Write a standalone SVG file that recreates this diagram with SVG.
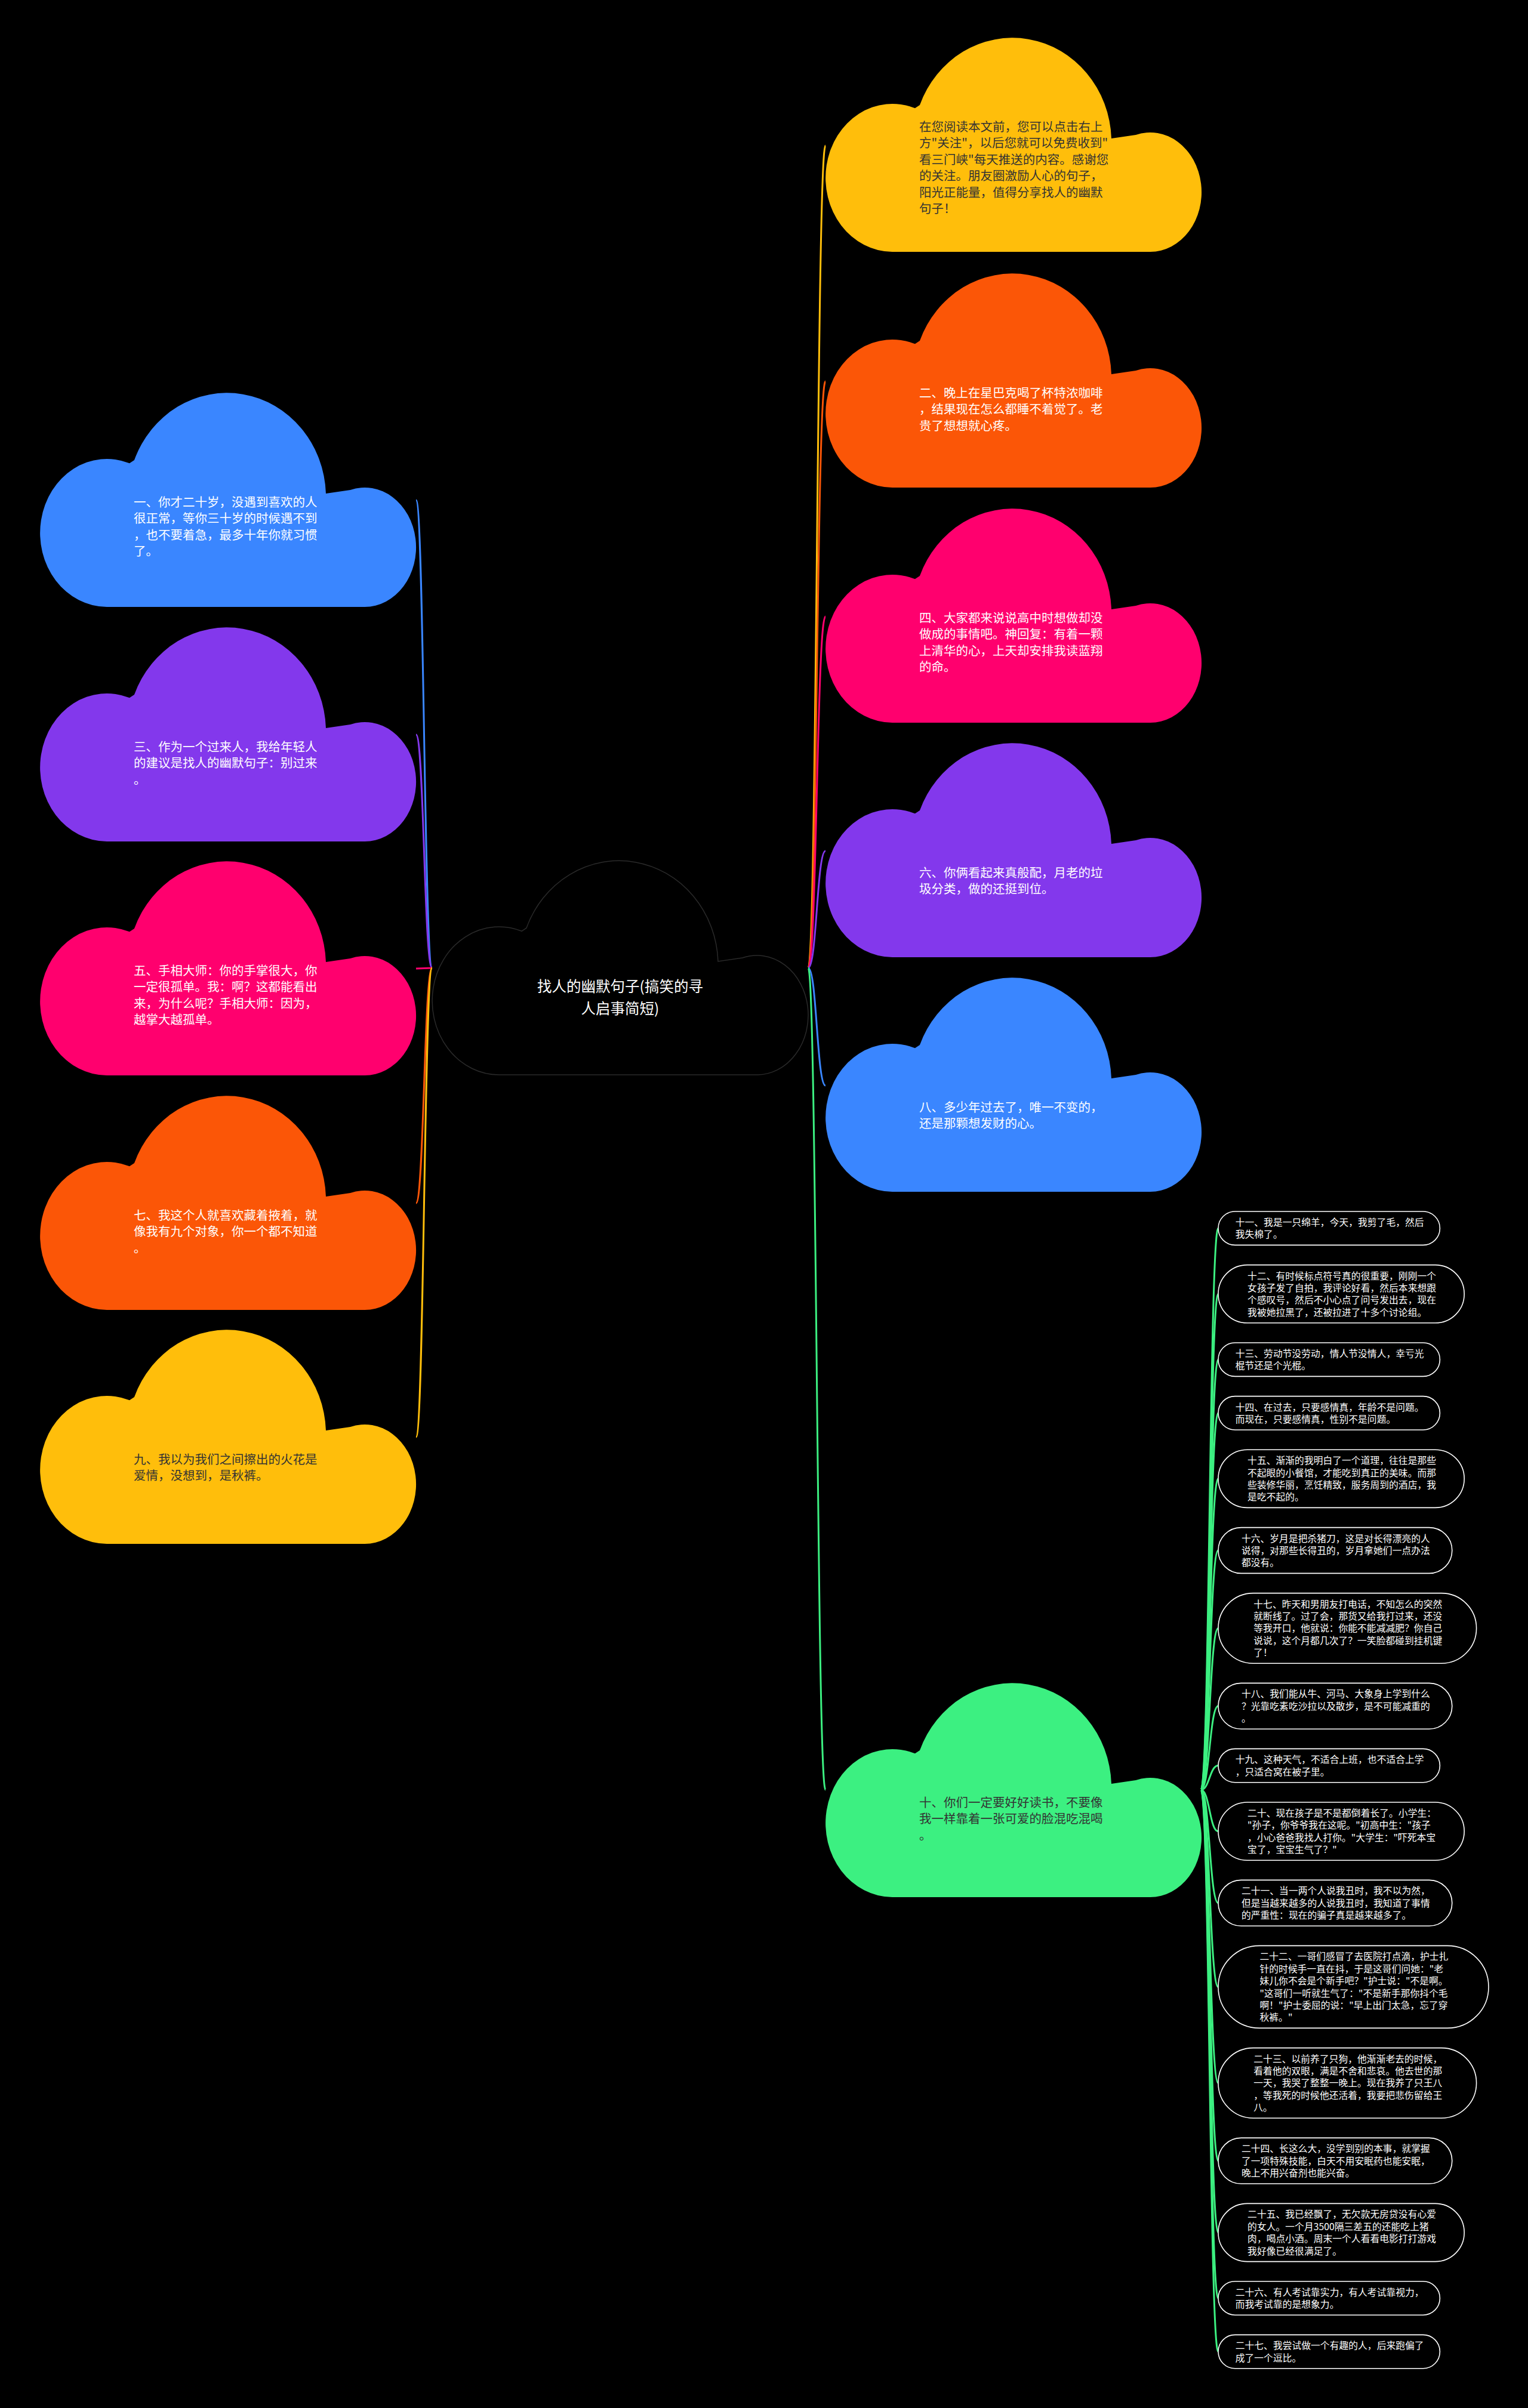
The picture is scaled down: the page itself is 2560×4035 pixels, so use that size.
<svg xmlns="http://www.w3.org/2000/svg" xmlns:xlink="http://www.w3.org/1999/xlink" width="2560" height="4035" viewBox="0 0 2560 4035">
<style>
.t{font-family:"Noto Sans CJK SC","Noto Sans",sans-serif;}
.ct{font-size:20.5px;}
.dk{fill:#333333;}
.lt{fill:#ffffff;}
.root{font-size:24.5px;fill:#ffffff;text-anchor:middle;}
.st{font-size:15.8px;fill:#ffffff;}
.pill{fill:#000000;stroke:#ffffff;stroke-width:1.6;}
.link{fill:none;stroke-width:3;}
</style>
<defs>
<path id="cloud" d="M158 112 A166 175 0 0 1 479 168 L520 162 A86 100 0 1 1 544 358 L112 358 A112 124 0 1 1 150 117.3 Z"/>
</defs>
<rect x="0" y="0" width="2560" height="4035" fill="#000000"/>

<g id="connectors">
<path class="link" stroke="#3A86FF" d="M724 1622 C710.5 1622 710.5 838 697 838"/>
<path class="link" stroke="#8338EC" d="M724 1622 C710.5 1622 710.5 1231 697 1231"/>
<path class="link" stroke="#FF006E" d="M724 1622 L697 1623"/>
<path class="link" stroke="#FB5607" d="M724 1622 C710.5 1622 710.5 2016 697 2016"/>
<path class="link" stroke="#FFBE0B" d="M724 1622 C710.5 1622 710.5 2408 697 2408"/>
<path class="link" stroke="#FFBE0B" d="M1354 1622 C1368.5 1622 1368.5 244 1383 244"/>
<path class="link" stroke="#FB5607" d="M1354 1622 C1368.5 1622 1368.5 639 1383 639"/>
<path class="link" stroke="#FF006E" d="M1354 1622 C1368.5 1622 1368.5 1033 1383 1033"/>
<path class="link" stroke="#8338EC" d="M1354 1622 C1368.5 1622 1368.5 1426 1383 1426"/>
<path class="link" stroke="#3A86FF" d="M1354 1622 C1368.5 1622 1368.5 1819 1383 1819"/>
<path class="link" stroke="#3CF081" d="M1354 1622 C1368.5 1622 1368.5 2999 1383 2999"/>
<g stroke="#3CF081">
<path class="link" d="M2012 2999 C2026.5 2999 2026.5 2058.2 2041 2058.2"/>
<path class="link" d="M2012 2999 C2026.5 2999 2026.5 2168.2 2041 2168.2"/>
<path class="link" d="M2012 2999 C2026.5 2999 2026.5 2278.2 2041 2278.2"/>
<path class="link" d="M2012 2999 C2026.5 2999 2026.5 2367.8 2041 2367.8"/>
<path class="link" d="M2012 2999 C2026.5 2999 2026.5 2477.8 2041 2477.8"/>
<path class="link" d="M2012 2999 C2026.5 2999 2026.5 2598 2041 2598"/>
<path class="link" d="M2012 2999 C2026.5 2999 2026.5 2728.4 2041 2728.4"/>
<path class="link" d="M2012 2999 C2026.5 2999 2026.5 2858.8 2041 2858.8"/>
<path class="link" d="M2012 2999 C2026.5 2999 2026.5 2958.6 2041 2958.6"/>
<path class="link" d="M2012 2999 C2026.5 2999 2026.5 3068.6 2041 3068.6"/>
<path class="link" d="M2012 2999 C2026.5 2999 2026.5 3188.8 2041 3188.8"/>
<path class="link" d="M2012 2999 C2026.5 2999 2026.5 3329.4 2041 3329.4"/>
<path class="link" d="M2012 2999 C2026.5 2999 2026.5 3490.4 2041 3490.4"/>
<path class="link" d="M2012 2999 C2026.5 2999 2026.5 3620.8 2041 3620.8"/>
<path class="link" d="M2012 2999 C2026.5 2999 2026.5 3741 2041 3741"/>
<path class="link" d="M2012 2999 C2026.5 2999 2026.5 3851 2041 3851"/>
<path class="link" d="M2012 2999 C2026.5 2999 2026.5 3940.6 2041 3940.6"/>
</g>
</g>

<g id="root">
<use xlink:href="#cloud" href="#cloud" x="724" y="1443" fill="#000000" stroke="#2a2a2a" stroke-width="1.5"/>
<text class="t root"><tspan x="1039" y="1662">找人的幽默句子(搞笑的寻</tspan><tspan x="1039" y="1699">人启事简短)</tspan></text>
</g>

<g id="node-intro">
<use xlink:href="#cloud" href="#cloud" x="1383" y="64" fill="#FFBE0B"/>
<text class="t ct dk"><tspan x="1540" y="219.7">在您阅读本文前，您可以点击右上</tspan><tspan x="1540" y="247.2">方"关注"，以后您就可以免费收到"</tspan><tspan x="1540" y="274.7">看三门峡"每天推送的内容。感谢您</tspan><tspan x="1540" y="302.2">的关注。朋友圈激励人心的句子，</tspan><tspan x="1540" y="329.7">阳光正能量，值得分享找人的幽默</tspan><tspan x="1540" y="357.2">句子！</tspan></text>
</g>

<g id="node-2">
<use xlink:href="#cloud" href="#cloud" x="1383" y="459" fill="#FB5607"/>
<text class="t ct lt"><tspan x="1540" y="665.6">二、晚上在星巴克喝了杯特浓咖啡</tspan><tspan x="1540" y="693.1">，结果现在怎么都睡不着觉了。老</tspan><tspan x="1540" y="720.6">贵了想想就心疼。</tspan></text>
</g>

<g id="node-4">
<use xlink:href="#cloud" href="#cloud" x="1383" y="853" fill="#FF006E"/>
<text class="t ct lt"><tspan x="1540" y="1042.6">四、大家都来说说高中时想做却没</tspan><tspan x="1540" y="1070.1">做成的事情吧。神回复：有着一颗</tspan><tspan x="1540" y="1097.6">上清华的心，上天却安排我读蓝翔</tspan><tspan x="1540" y="1125.1">的命。</tspan></text>
</g>

<g id="node-6">
<use xlink:href="#cloud" href="#cloud" x="1383" y="1246" fill="#8338EC"/>
<text class="t ct lt"><tspan x="1540" y="1469.5">六、你俩看起来真般配，月老的垃</tspan><tspan x="1540" y="1497">圾分类，做的还挺到位。</tspan></text>
</g>

<g id="node-8">
<use xlink:href="#cloud" href="#cloud" x="1383" y="1639" fill="#3A86FF"/>
<text class="t ct lt"><tspan x="1540" y="1862.5">八、多少年过去了，唯一不变的，</tspan><tspan x="1540" y="1890">还是那颗想发财的心。</tspan></text>
</g>

<g id="node-10">
<use xlink:href="#cloud" href="#cloud" x="1383" y="2821" fill="#3CF081"/>
<text class="t ct dk"><tspan x="1540" y="3027.6">十、你们一定要好好读书，不要像</tspan><tspan x="1540" y="3055.1">我一样靠着一张可爱的脸混吃混喝</tspan><tspan x="1540" y="3082.6">。</tspan></text>
</g>

<g id="node-1">
<use xlink:href="#cloud" href="#cloud" x="67" y="659" fill="#3A86FF"/>
<text class="t ct lt"><tspan x="224" y="848.6">一、你才二十岁，没遇到喜欢的人</tspan><tspan x="224" y="876.1">很正常，等你三十岁的时候遇不到</tspan><tspan x="224" y="903.6">，也不要着急，最多十年你就习惯</tspan><tspan x="224" y="931.1">了。</tspan></text>
</g>

<g id="node-3">
<use xlink:href="#cloud" href="#cloud" x="67" y="1052" fill="#8338EC"/>
<text class="t ct lt"><tspan x="224" y="1258.6">三、作为一个过来人，我给年轻人</tspan><tspan x="224" y="1286.1">的建议是找人的幽默句子：别过来</tspan><tspan x="224" y="1313.6">。</tspan></text>
</g>

<g id="node-5">
<use xlink:href="#cloud" href="#cloud" x="67" y="1444" fill="#FF006E"/>
<text class="t ct lt"><tspan x="224" y="1633.6">五、手相大师：你的手掌很大，你</tspan><tspan x="224" y="1661.1">一定很孤单。我：啊？这都能看出</tspan><tspan x="224" y="1688.6">来，为什么呢？手相大师：因为，</tspan><tspan x="224" y="1716.1">越掌大越孤单。</tspan></text>
</g>

<g id="node-7">
<use xlink:href="#cloud" href="#cloud" x="67" y="1837" fill="#FB5607"/>
<text class="t ct lt"><tspan x="224" y="2043.6">七、我这个人就喜欢藏着掖着，就</tspan><tspan x="224" y="2071.1">像我有九个对象，你一个都不知道</tspan><tspan x="224" y="2098.6">。</tspan></text>
</g>

<g id="node-9">
<use xlink:href="#cloud" href="#cloud" x="67" y="2229" fill="#FFBE0B"/>
<text class="t ct dk"><tspan x="224" y="2452.5">九、我以为我们之间擦出的火花是</tspan><tspan x="224" y="2480">爱情，没想到，是秋裤。</tspan></text>
</g>

<g id="node-11">
<rect class="pill" x="2041" y="2030" width="371.4" height="56.4" rx="28.2"/>
<text class="t st"><tspan x="2069.7" y="2054">十一、我是一只绵羊，今天，我剪了毛，然后</tspan><tspan x="2069.7" y="2074.4">我失棉了。</tspan></text>
</g>
<g id="node-12">
<rect class="pill" x="2041" y="2119.6" width="412.2" height="97.2" rx="48.6"/>
<text class="t st"><tspan x="2090.1" y="2143.6">十二、有时候标点符号真的很重要，刚刚一个</tspan><tspan x="2090.1" y="2164">女孩子发了自拍，我评论好看，然后本来想跟</tspan><tspan x="2090.1" y="2184.4">个感叹号，然后不小心点了问号发出去，现在</tspan><tspan x="2090.1" y="2204.8">我被她拉黑了，还被拉进了十多个讨论组。</tspan></text>
</g>
<g id="node-13">
<rect class="pill" x="2041" y="2250" width="371.4" height="56.4" rx="28.2"/>
<text class="t st"><tspan x="2069.7" y="2274">十三、劳动节没劳动，情人节没情人，幸亏光</tspan><tspan x="2069.7" y="2294.4">棍节还是个光棍。</tspan></text>
</g>
<g id="node-14">
<rect class="pill" x="2041" y="2339.6" width="371.4" height="56.4" rx="28.2"/>
<text class="t st"><tspan x="2069.7" y="2363.6">十四、在过去，只要感情真，年龄不是问题。</tspan><tspan x="2069.7" y="2384">而现在，只要感情真，性别不是问题。</tspan></text>
</g>
<g id="node-15">
<rect class="pill" x="2041" y="2429.2" width="412.2" height="97.2" rx="48.6"/>
<text class="t st"><tspan x="2090.1" y="2453.2">十五、渐渐的我明白了一个道理，往往是那些</tspan><tspan x="2090.1" y="2473.6">不起眼的小餐馆，才能吃到真正的美味。而那</tspan><tspan x="2090.1" y="2494">些装修华丽，烹饪精致，服务周到的酒店，我</tspan><tspan x="2090.1" y="2514.4">是吃不起的。</tspan></text>
</g>
<g id="node-16">
<rect class="pill" x="2041" y="2559.6" width="391.8" height="76.8" rx="38.4"/>
<text class="t st"><tspan x="2079.9" y="2583.6">十六、岁月是把杀猪刀，这是对长得漂亮的人</tspan><tspan x="2079.9" y="2604">说得，对那些长得丑的，岁月拿她们一点办法</tspan><tspan x="2079.9" y="2624.4">都没有。</tspan></text>
</g>
<g id="node-17">
<rect class="pill" x="2041" y="2669.6" width="432.6" height="117.6" rx="58.8"/>
<text class="t st"><tspan x="2100.3" y="2693.6">十七、昨天和男朋友打电话，不知怎么的突然</tspan><tspan x="2100.3" y="2714">就断线了。过了会，那货又给我打过来，还没</tspan><tspan x="2100.3" y="2734.4">等我开口，他就说：你能不能减减肥？你自己</tspan><tspan x="2100.3" y="2754.8">说说，这个月都几次了？一笑脸都碰到挂机键</tspan><tspan x="2100.3" y="2775.2">了！</tspan></text>
</g>
<g id="node-18">
<rect class="pill" x="2041" y="2820.4" width="391.8" height="76.8" rx="38.4"/>
<text class="t st"><tspan x="2079.9" y="2844.4">十八、我们能从牛、河马、大象身上学到什么</tspan><tspan x="2079.9" y="2864.8">？光靠吃素吃沙拉以及散步，是不可能减重的</tspan><tspan x="2079.9" y="2885.2">。</tspan></text>
</g>
<g id="node-19">
<rect class="pill" x="2041" y="2930.4" width="371.4" height="56.4" rx="28.2"/>
<text class="t st"><tspan x="2069.7" y="2954.4">十九、这种天气，不适合上班，也不适合上学</tspan><tspan x="2069.7" y="2974.8">，只适合窝在被子里。</tspan></text>
</g>
<g id="node-20">
<rect class="pill" x="2041" y="3020" width="412.2" height="97.2" rx="48.6"/>
<text class="t st"><tspan x="2090.1" y="3044">二十、现在孩子是不是都倒着长了。小学生：</tspan><tspan x="2090.1" y="3064.4">"孙子，你爷爷我在这呢。"初高中生："孩子</tspan><tspan x="2090.1" y="3084.8">，小心爸爸我找人打你。"大学生："吓死本宝</tspan><tspan x="2090.1" y="3105.2">宝了，宝宝生气了？"</tspan></text>
</g>
<g id="node-21">
<rect class="pill" x="2041" y="3150.4" width="391.8" height="76.8" rx="38.4"/>
<text class="t st"><tspan x="2079.9" y="3174.4">二十一、当一两个人说我丑时，我不以为然，</tspan><tspan x="2079.9" y="3194.8">但是当越来越多的人说我丑时，我知道了事情</tspan><tspan x="2079.9" y="3215.2">的严重性：现在的骗子真是越来越多了。</tspan></text>
</g>
<g id="node-22">
<rect class="pill" x="2041" y="3260.4" width="453" height="138" rx="69"/>
<text class="t st"><tspan x="2110.5" y="3284.4">二十二、一哥们感冒了去医院打点滴，护士扎</tspan><tspan x="2110.5" y="3304.8">针的时候手一直在抖，于是这哥们问她："老</tspan><tspan x="2110.5" y="3325.2">妹儿你不会是个新手吧？"护士说："不是啊。</tspan><tspan x="2110.5" y="3345.6">"这哥们一听就生气了："不是新手那你抖个毛</tspan><tspan x="2110.5" y="3366">啊！"护士委屈的说："早上出门太急，忘了穿</tspan><tspan x="2110.5" y="3386.4">秋裤。"</tspan></text>
</g>
<g id="node-23">
<rect class="pill" x="2041" y="3431.6" width="432.6" height="117.6" rx="58.8"/>
<text class="t st"><tspan x="2100.3" y="3455.6">二十三、以前养了只狗，他渐渐老去的时候，</tspan><tspan x="2100.3" y="3476">看着他的双眼，满是不舍和悲哀。他去世的那</tspan><tspan x="2100.3" y="3496.4">一天，我哭了整整一晚上。现在我养了只王八</tspan><tspan x="2100.3" y="3516.8">，等我死的时候他还活着，我要把悲伤留给王</tspan><tspan x="2100.3" y="3537.2">八。</tspan></text>
</g>
<g id="node-24">
<rect class="pill" x="2041" y="3582.4" width="391.8" height="76.8" rx="38.4"/>
<text class="t st"><tspan x="2079.9" y="3606.4">二十四、长这么大，没学到别的本事，就掌握</tspan><tspan x="2079.9" y="3626.8">了一项特殊技能，白天不用安眠药也能安眠，</tspan><tspan x="2079.9" y="3647.2">晚上不用兴奋剂也能兴奋。</tspan></text>
</g>
<g id="node-25">
<rect class="pill" x="2041" y="3692.4" width="412.2" height="97.2" rx="48.6"/>
<text class="t st"><tspan x="2090.1" y="3716.4">二十五、我已经飘了，无欠款无房贷没有心爱</tspan><tspan x="2090.1" y="3736.8">的女人。一个月3500隔三差五的还能吃上猪</tspan><tspan x="2090.1" y="3757.2">肉，喝点小酒。周末一个人看看电影打打游戏</tspan><tspan x="2090.1" y="3777.6">我好像已经很满足了。</tspan></text>
</g>
<g id="node-26">
<rect class="pill" x="2041" y="3822.8" width="371.4" height="56.4" rx="28.2"/>
<text class="t st"><tspan x="2069.7" y="3846.8">二十六、有人考试靠实力，有人考试靠视力，</tspan><tspan x="2069.7" y="3867.2">而我考试靠的是想象力。</tspan></text>
</g>
<g id="node-27">
<rect class="pill" x="2041" y="3912.4" width="371.4" height="56.4" rx="28.2"/>
<text class="t st"><tspan x="2069.7" y="3936.4">二十七、我尝试做一个有趣的人，后来跑偏了</tspan><tspan x="2069.7" y="3956.8">成了一个逗比。</tspan></text>
</g>
</svg>
